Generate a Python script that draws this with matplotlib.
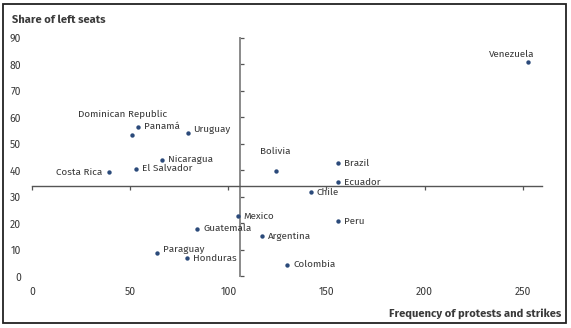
import numpy as np
import matplotlib
matplotlib.use("Agg")
import matplotlib.pyplot as plt
from matplotlib.patches import Rectangle

# Country-level data: protest frequency vs. share of left seats
countries = ["Panamá", "Dominican Republic", "Uruguay", "Nicaragua", "El Salvador",
             "Costa Rica", "Bolivia", "Brazil", "Ecuador", "Chile", "Mexico", "Peru",
             "Guatemala", "Argentina", "Paraguay", "Honduras", "Colombia", "Venezuela"]
protests = [53.8, 50.9, 79.3, 66.1, 53.0, 39.1, 124.1, 156.0, 156.0, 142.1, 104.8, 156.0,
            84.1, 117.2, 63.8, 79.1, 130.1, 252.8]
left_share = [56.5, 53.4, 54.0, 43.9, 40.6, 39.4, 39.8, 42.6, 35.5, 31.7, 22.6, 20.8,
              18.0, 15.2, 8.9, 6.9, 4.4, 80.9]

x_ticks = [0, 50, 100, 150, 200, 250]
y_ticks = [0, 10, 20, 30, 40, 50, 60, 70, 80, 90]

# label placement (offset in pixels, horizontal alignment)
label_pos = {
    "Dominican Republic": ((-9, 21), "center"),
    "Uruguay": ((5, 4), "left"),
    "Costa Rica": ((-7, 0), "right"),
    "Bolivia": ((0, 19), "center"),
    "Paraguay": ((6, 3), "left"),
    "Venezuela": ((6, 8), "right"),
}

plt.rcParams["font.family"] = ["Fira Sans", "Open Sans", "DejaVu Sans"]
TEXT = "#3a3a3a"
DOT = "#2b4a7a"

W, H = 571, 328
fig = plt.figure(figsize=(W / 100, H / 100), dpi=100)

# axes rectangle in pixels
x0, x1 = 32, 542.4
y0, y1 = 276.3, 37.8
rect = [x0 / W, (H - y0) / H, (x1 - x0) / W, (y0 - y1) / H]

ax = fig.add_axes(rect)
ax.set_xlim(0, 260)
ax.set_ylim(0, 90)
for s in ax.spines.values():
    s.set_visible(False)
ax.set_xticks(x_ticks)
ax.set_yticks(y_ticks)
ax.tick_params(axis="both", length=0, labelsize=7.5, labelcolor=TEXT)
ax.tick_params(axis="y", pad=8)
ax.tick_params(axis="x", pad=7.5)
ax.patch.set_visible(False)

# crossing axes at the mean of each variable
x_mean = float(np.mean(protests))
y_mean = float(np.mean(left_share))
ax2 = fig.add_axes(rect, sharex=ax, sharey=ax)
ax2.patch.set_visible(False)
ax2.spines["top"].set_visible(False)
ax2.spines["right"].set_visible(False)
ax2.spines["left"].set_position(("data", x_mean))
ax2.spines["bottom"].set_position(("data", y_mean))
ax2.spines["left"].set_color("#8a8a8a")
ax2.spines["left"].set_linewidth(1.4)
ax2.spines["bottom"].set_color("#555555")
ax2.spines["bottom"].set_linewidth(1.0)
ax2.tick_params(axis="y", direction="in", length=3, width=0.9, color="#555555",
                labelleft=False)
ax2.tick_params(axis="x", direction="out", length=3, width=0.9, color="#555555",
                labelbottom=False)

ax2.scatter(protests, left_share, s=10, color=DOT, zorder=3, linewidths=0)

for name, xv, yv in zip(countries, protests, left_share):
    off, ha = label_pos.get(name, ((6, 0), "left"))
    ax2.annotate(name, (xv, yv), xytext=off, textcoords="offset pixels",
                 ha=ha, va="center", fontsize=7.1, color=TEXT, annotation_clip=False)

fig.text(12 / W, 1 - 19.5 / H, "Share of left seats", fontsize=8, fontweight="bold",
         color=TEXT, ha="left", va="center")
fig.text(561 / W, 1 - 314 / H, "Frequency of protests and strikes", fontsize=8,
         fontweight="bold", color=TEXT, ha="right", va="center")

# outer frame
fig.patches.append(Rectangle((3 / W, (H - 323) / H), (566 - 3) / W, (323 - 4) / H,
                             transform=fig.transFigure, fill=False,
                             edgecolor="#222222", linewidth=1.3))

fig.savefig("out.png", dpi=100)
